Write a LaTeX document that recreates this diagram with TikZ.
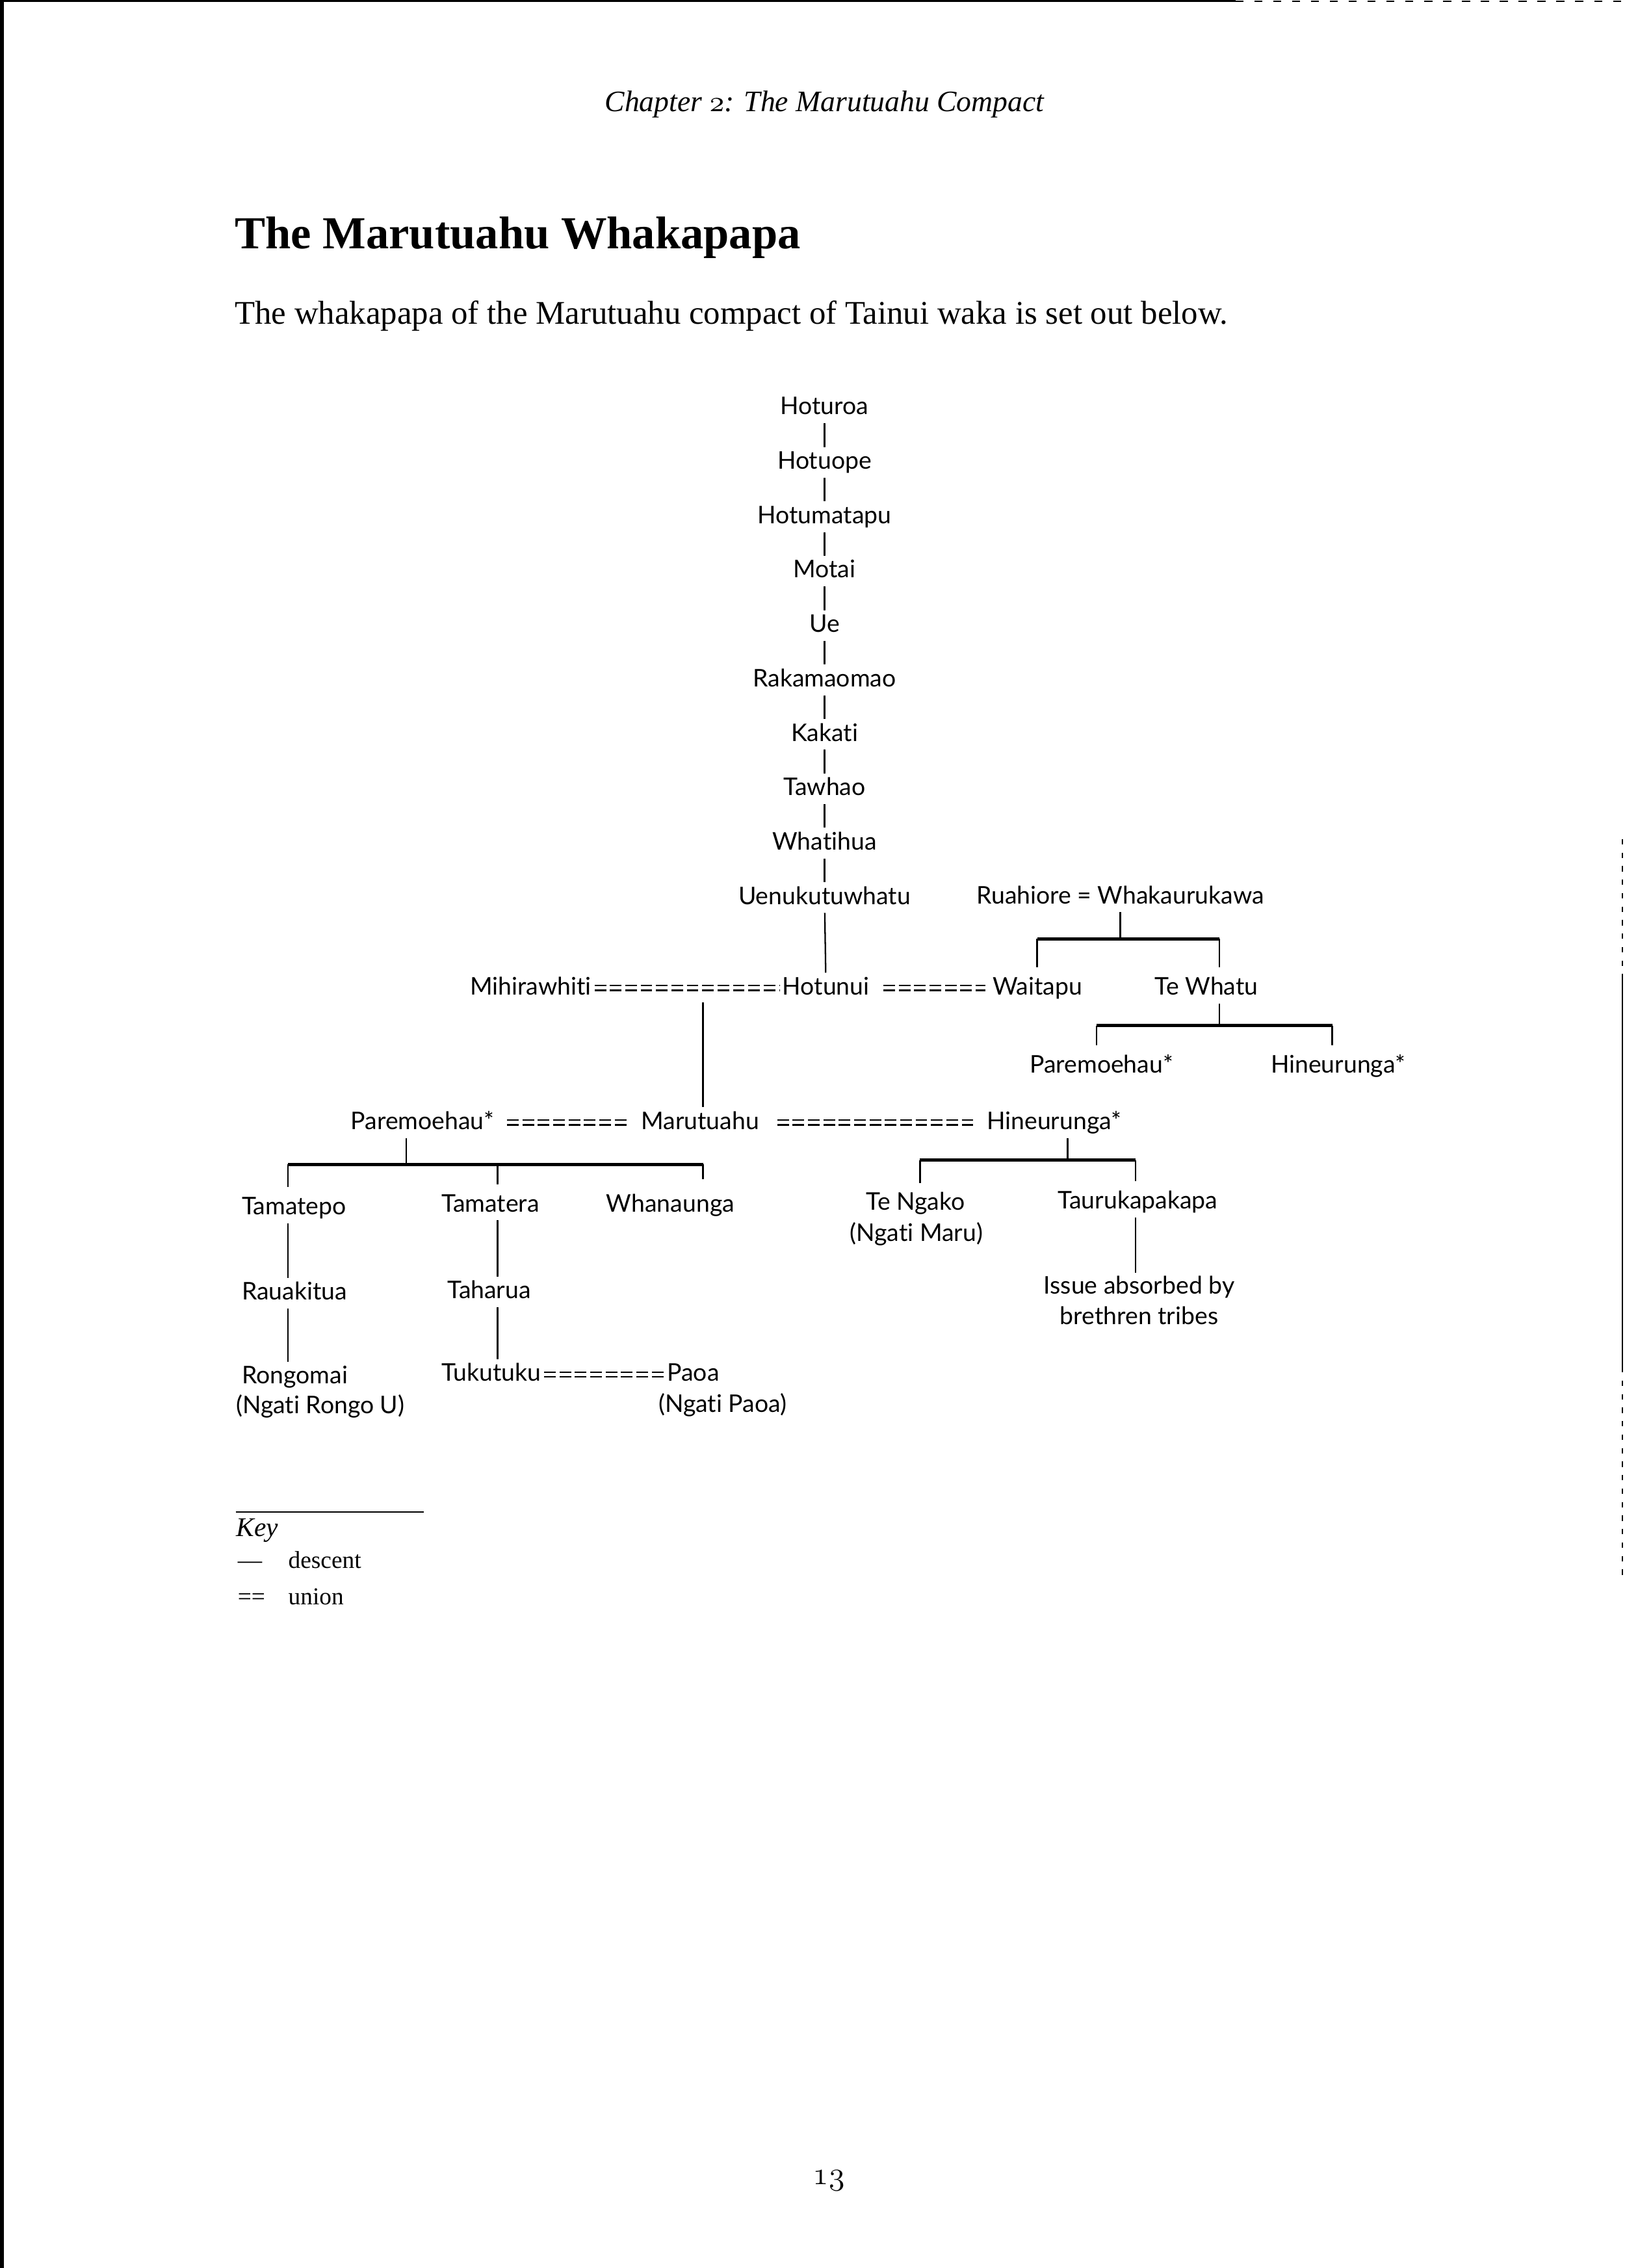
\documentclass[tikz,border=0pt]{standalone}
\usepackage{fontspec}
\setmainfont{Liberation Serif}
\newfontfamily\treefont[Ligatures={CommonOff,ContextualOff}]{Lato}
\newcommand\osnum[1]{{\fontencoding{OML}\fontfamily{cmm}\fontseries{m}\fontshape{it}\selectfont #1}}
\tikzset{
  person/.style={inner sep=1pt, text height=7pt, text depth=2pt, font=\treefont\fontsize{9}{11}\selectfont},
  tribe/.style={inner sep=1pt, font=\treefont\fontsize{9}{11.3}\selectfont},
  page text/.style={inner sep=0pt},
  descent/.style={line width=0.55pt},
  sibbar/.style={line width=1.15pt},
  union/.style={double, double distance=1.2pt, line width=0.5pt, dash pattern=on 4.3pt off 1.4pt},
}
\begin{document}
\begin{tikzpicture}[x=0.018842cm, y=-0.018842cm]
 \useasboundingbox (0,0) rectangle (1123,1567.8);
 % edges of the scanned page
 \fill (0,0) rectangle (2.6,1567.8);
 \draw[line width=0.7pt] (0,0.7)--(854,0.7);
 \draw[line width=0.5pt, dash pattern=on 3pt off 4pt] (854,0.7)--(1123,0.7);
 \draw[line width=0.4pt, dash pattern=on 2pt off 3pt] (1121.5,580)--(1121.5,675) (1121.5,945)--(1121.5,1092);
 \draw[line width=0.4pt] (1121.5,675)--(1121.5,945);

 % heading
 \node[page text, anchor=base, font=\itshape\fontsize{11}{13}\selectfont] (chapter) at (570,77) {Chapter \osnum{2}: The Marutuahu Compact};
 \node[page text, anchor=base west, font=\bfseries\fontsize{17}{20}\selectfont] (title) at (162,172) {The Marutuahu Whakapapa};
 \node[page text, anchor=base west, font=\fontsize{12.25}{14}\selectfont] (intro) at (162,224) {The whakapapa of the Marutuahu compact of Tainui waka is set out below.};

 % line from Hoturoa
 \foreach \n/\t [count=\i] in {hoturoa/Hoturoa, hotuope/Hotuope, hotumatapu/Hotumatapu, motai/Motai, ue/Ue,
   rakamaomao/Rakamaomao, kakati/Kakati, tawhao/Tawhao, whatihua/Whatihua, uenuku/Uenukutuwhatu}
 \node[person] (\n) at (570,{282+37.6*(\i-1)}) {\t};
 \foreach \a/\b in {hoturoa/hotuope, hotuope/hotumatapu, hotumatapu/motai, motai/ue, ue/rakamaomao,
   rakamaomao/kakati, kakati/tawhao, tawhao/whatihua, whatihua/uenuku}
 \draw[descent] (\a)--(\b);

 % Hotunui and his wives
 \node[person, anchor=east] (mihirawhiti) at (411,683) {Mihirawhiti};
 \node[person] (hotunui) at (571,683) {Hotunui};
 \node[person, anchor=west] (waitapu) at (684,683) {Waitapu};
 \node[person] (tewhatu) at (834,683) {Te Whatu};
 \node[person] (ruahiore) at (774.5,620) {Ruahiore = Whakaurukawa};
 \draw[descent] (uenuku)--(hotunui);
 \draw[union] (mihirawhiti)--(hotunui);
 \draw[union, shorten <=4pt, shorten >=1.5pt] (hotunui)--(waitapu);

 \coordinate (ruaM) at (774.5,649);
 \coordinate (ruaL) at (717,649);
 \coordinate (ruaR) at (843,649);
 \draw[descent] (ruahiore)--(ruaM);
 \draw[sibbar] (ruaL)--(ruaR);
 \draw[descent, shorten >=2pt] (ruaL)--(ruaL |- waitapu.north);
 \draw[descent, shorten >=2pt] (ruaR)--(ruaR |- tewhatu.north);

 % Te Whatu's daughters
 \node[person] (paremoehauR) at (761.5,737) {Paremoehau*};
 \node[person] (hineurungaR) at (925,737) {Hineurunga*};
 \coordinate (whatuM) at (843,709);
 \coordinate (whatuL) at (758,709);
 \coordinate (whatuR) at (921,709);
 \draw[descent] (tewhatu.south -| whatuM)--(whatuM);
 \draw[sibbar] (whatuL)--(whatuR);
 \draw[descent, shorten >=2pt] (whatuL)--(whatuL |- paremoehauR.north);
 \draw[descent, shorten >=2pt] (whatuR)--(whatuR |- hineurungaR.north);

 % Marutuahu and his wives
 \node[person, anchor=east] (paremoehauL) at (344,776) {Paremoehau*};
 \node[person] (marutuahu) at (484,776) {Marutuahu};
 \node[person, anchor=west] (hineurungaL) at (680,776) {Hineurunga*};
 \coordinate (hotunuiM) at (486,693);
 \draw[descent] (hotunuiM)--(hotunuiM |- marutuahu.north);
 \draw[union, shorten <=3.5pt, shorten >=3.5pt] (paremoehauL)--(marutuahu);
 \draw[union, shorten <=5.5pt, shorten >=2.6pt] (marutuahu)--(hineurungaL);

 % children of Paremoehau
 \node[person, anchor=west] (tamatepo) at (165,835) {Tamatepo};
 \node[person, anchor=west] (tamatera) at (303,833) {Tamatera};
 \node[person, anchor=west] (whanaunga) at (417,833) {Whanaunga};
 \coordinate (pareM) at (281,805);
 \coordinate (pareL) at (199,805);
 \coordinate (pareC) at (344,805);
 \coordinate (pareR) at (486,805);
 \draw[descent] (paremoehauL.south -| pareM)--(pareM);
 \draw[sibbar] (pareL)--(pareR);
 \draw[descent, shorten >=2pt] (pareL)--(pareL |- tamatepo.north);
 \draw[descent, shorten >=2pt] (pareC)--(pareC |- tamatera.north);
 \draw[descent, shorten >=4pt] (pareR)--(pareR |- whanaunga.north);

 \node[person, anchor=west] (rauakitua) at (165,894) {Rauakitua};
 \node[person, anchor=west] (rongomai) at (165,952) {Rongomai};
 \node[tribe, anchor=base west] (ngatirongou) at (161,977) {(Ngati Rongo U)};
 \draw[descent] (tamatepo.south -| pareL)--(rauakitua.north -| pareL);
 \draw[descent] (rauakitua.south -| pareL)--(rongomai.north -| pareL);

 \node[person, anchor=west] (taharua) at (307,893) {Taharua};
 \node[person, anchor=west] (tukutuku) at (303,950) {Tukutuku};
 \node[person, anchor=west] (paoa) at (459,950) {Paoa};
 \node[tribe, anchor=base west] (ngatipaoa) at (453,976) {(Ngati Paoa)};
 \draw[descent] (tamatera.south -| pareC)--(taharua.north -| pareC);
 \draw[descent] (taharua.south -| pareC)--(tukutuku.north -| pareC);
 \draw[union] (tukutuku)--(paoa);

 % children of Hineurunga
 \node[person] (tengako) at (633,832) {Te Ngako};
 \node[tribe, anchor=base] (ngatimaru) at (633.5,858) {(Ngati Maru)};
 \node[person] (taurukapakapa) at (786.5,831) {Taurukapakapa};
 \node[tribe, anchor=north, align=center] (issue) at (787.5,880) {Issue absorbed by\\brethren tribes};
 \coordinate (hineM) at (738,802);
 \coordinate (hineL) at (636,802);
 \coordinate (hineR) at (785,802);
 \draw[descent] (hineurungaL.south -| hineM)--(hineM);
 \draw[sibbar] (hineL)--(hineR);
 \draw[descent, shorten >=2pt] (hineL)--(hineL |- tengako.north);
 \draw[descent, shorten >=2pt] (hineR)--(hineR |- taurukapakapa.north);
 \draw[descent] (taurukapakapa.south -| hineR)--(hineR |- issue.north);

 % key
 \draw[line width=0.5pt] (163,1045)--(293,1045);
 \node[page text, anchor=base west, font=\itshape\fontsize{10}{12}\selectfont] (keyhead) at (163,1062) {Key};
 \node[page text, anchor=base west, font=\fontsize{9}{11}\selectfont] (keydescentsign) at (164,1084) {—};
 \node[page text, anchor=base west, font=\fontsize{9}{11}\selectfont] (keydescent) at (199,1084) {descent};
 \node[page text, anchor=base west, font=\fontsize{9}{11}\selectfont] (keyunionsign) at (164,1109) {==};
 \node[page text, anchor=base west, font=\fontsize{9}{11}\selectfont] (keyunion) at (199,1109) {union};

 \node[page text, anchor=base, font=\fontsize{12.5}{14}\selectfont] (pageno) at (573,1510) {\osnum{13}};
\end{tikzpicture}
\end{document}
